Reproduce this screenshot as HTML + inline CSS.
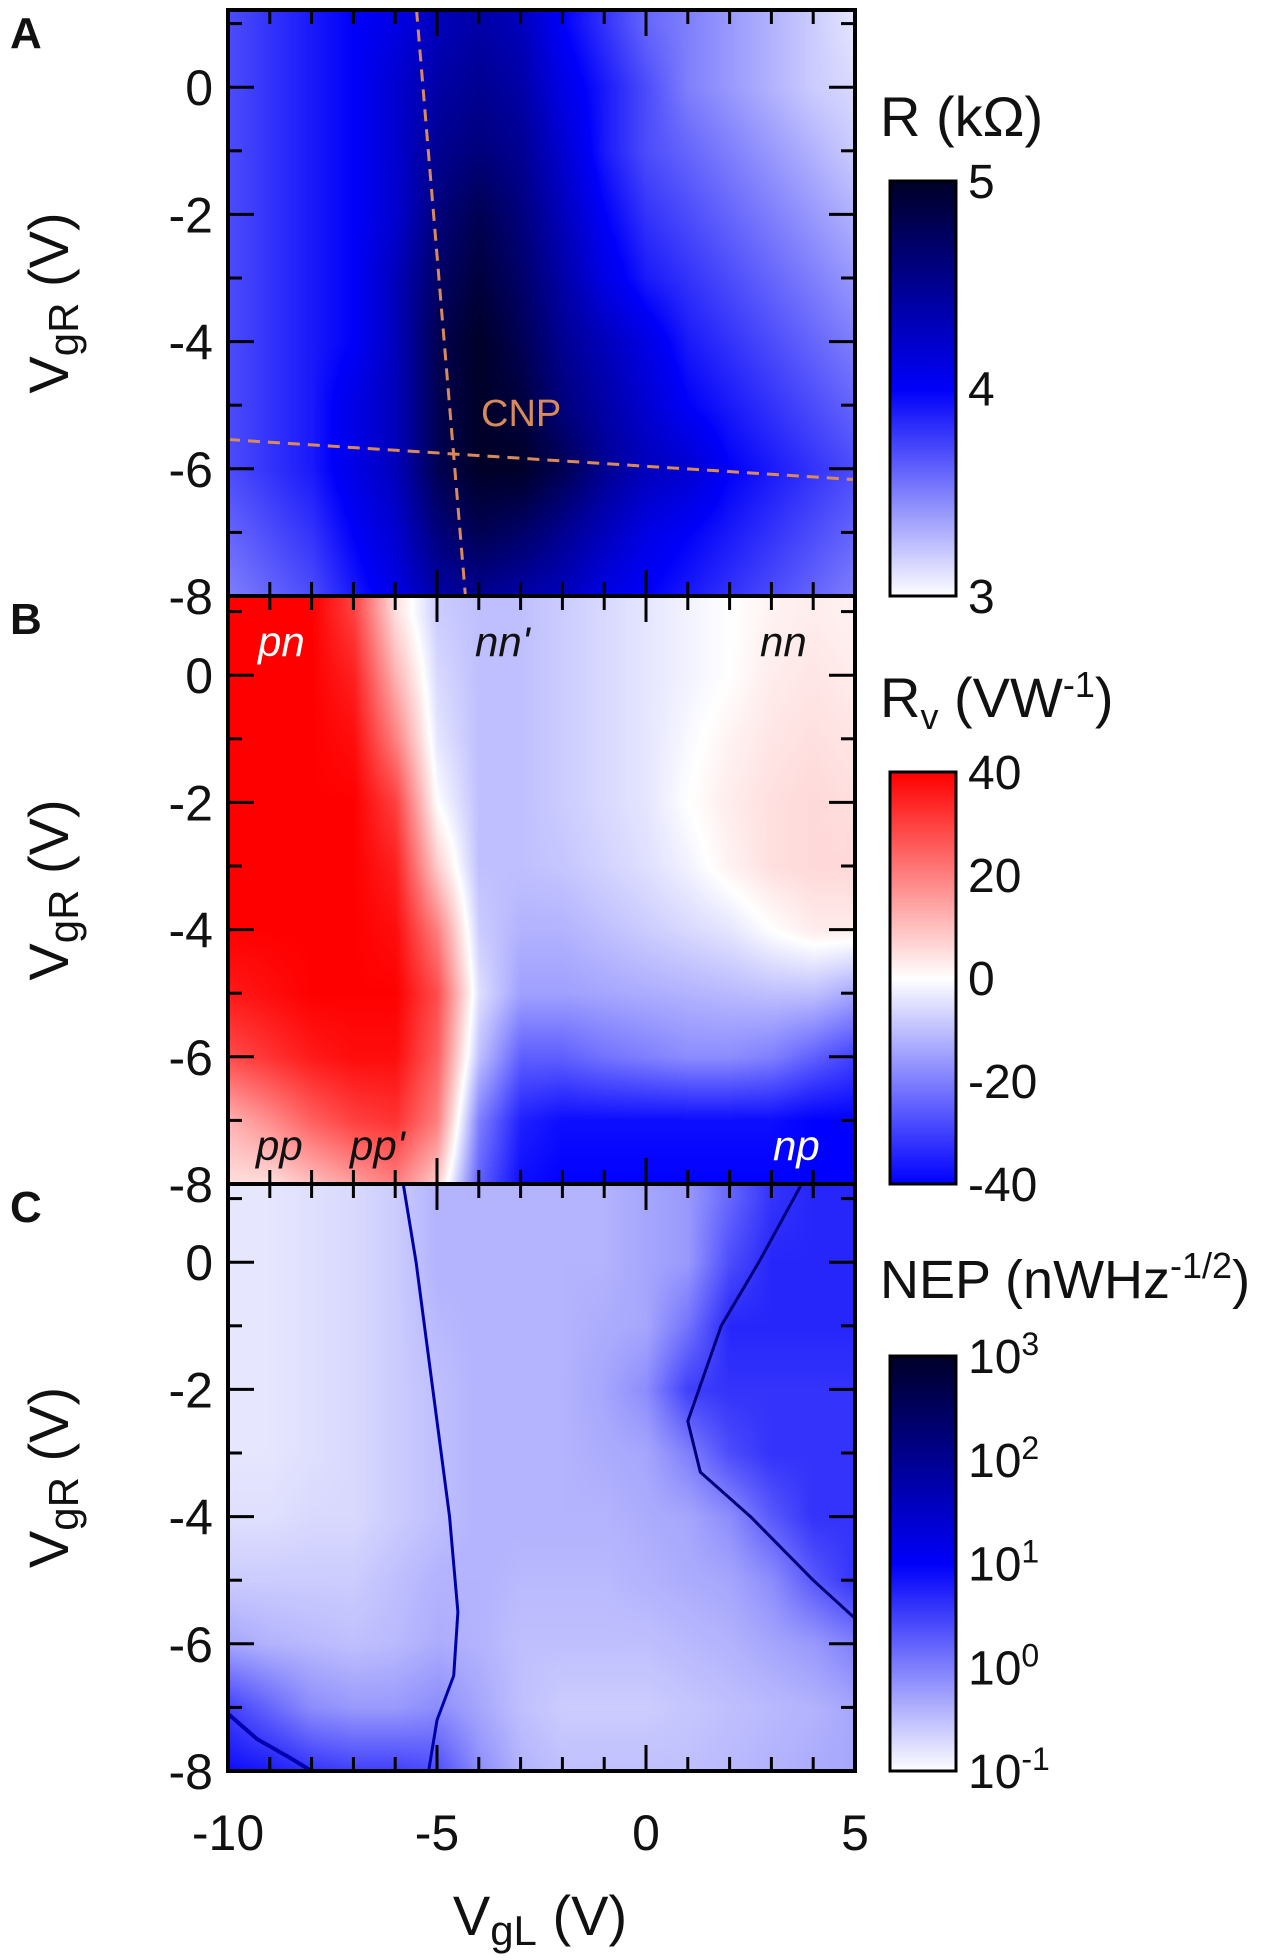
<!DOCTYPE html>
<html><head><meta charset="utf-8">
<style>
html,body{margin:0;padding:0;background:#fff;}
#root{position:relative;width:1280px;height:1960px;overflow:hidden;font-family:"Liberation Sans Narrow","Liberation Sans",sans-serif;}
canvas{position:absolute;}
svg{position:absolute;left:0;top:0;}
svg text{font-family:"Liberation Sans Narrow","Liberation Sans",sans-serif;fill:#111;}
</style></head>
<body>
<div id="root">
<canvas id="cA"></canvas>
<canvas id="cB"></canvas>
<canvas id="cC"></canvas>
<canvas id="bA"></canvas>
<canvas id="bB"></canvas>
<canvas id="bC"></canvas>
<svg id="ov" width="1280" height="1960"></svg>
</div>
<script>
// ---- data ----
const xCats=[-10,-9,-8,-7,-6,-5,-4,-3,-2,-1,0,1,2,3,4,5];
const yCats=[1,0,-1,-2,-3,-4,-5,-6,-7,-8];
const gridA=[
[3.7,3.8,3.9,4.0,4.1,4.3,4.4,4.3,4.0,3.8,3.6,3.5,3.4,3.3,3.2,3.1],
[3.7,3.8,3.9,4.0,4.2,4.4,4.5,4.4,4.1,3.9,3.7,3.5,3.4,3.3,3.2,3.15],
[3.7,3.8,3.9,4.0,4.2,4.5,4.6,4.5,4.2,3.9,3.7,3.6,3.5,3.4,3.3,3.2],
[3.7,3.8,3.9,4.0,4.2,4.6,4.8,4.6,4.3,4.0,3.8,3.7,3.6,3.5,3.4,3.3],
[3.7,3.8,3.9,4.0,4.3,4.7,4.9,4.7,4.4,4.1,3.9,3.8,3.7,3.6,3.5,3.4],
[3.7,3.8,3.9,4.0,4.3,4.8,5.0,4.8,4.5,4.3,4.1,3.9,3.8,3.7,3.6,3.5],
[3.7,3.8,3.9,4.1,4.3,4.8,5.0,4.9,4.6,4.4,4.2,4.0,3.9,3.8,3.7,3.6],
[3.7,3.8,3.9,4.1,4.3,4.8,5.0,5.0,4.8,4.5,4.3,4.2,4.0,3.9,3.8,3.7],
[3.6,3.7,3.8,4.0,4.2,4.6,4.8,4.7,4.5,4.3,4.1,4.0,3.9,3.8,3.7,3.6],
[3.5,3.6,3.7,3.9,4.1,4.4,4.5,4.4,4.3,4.1,4.0,3.9,3.8,3.7,3.6,3.5]];
const gridB=[
[40,40,40,30,5,-8,-10,-10,-8,-6,-4,-2,0,2,3,2],
[40,40,40,35,12,-6,-10,-10,-8,-6,-4,-2,0,3,4,3],
[40,40,40,38,20,-4,-10,-10,-8,-6,-4,-1,2,4,5,4],
[40,40,40,40,30,0,-10,-10,-8,-6,-4,0,3,5,6,5],
[40,40,40,40,35,8,-10,-10,-9,-7,-5,-2,2,5,6,6],
[40,40,40,40,38,20,-8,-12,-12,-10,-8,-6,-4,0,3,3],
[36,38,40,40,40,28,-5,-15,-15,-14,-13,-12,-11,-10,-10,-14],
[28,32,36,38,38,25,-10,-25,-25,-22,-20,-18,-18,-20,-25,-30],
[12,18,25,30,32,20,-20,-35,-38,-38,-38,-38,-38,-38,-40,-40],
[5,5,10,15,20,8,-25,-38,-40,-40,-40,-40,-40,-40,-40,-40]];
const gridC=[
[-0.8,-0.8,-0.75,-0.7,-0.6,-0.4,-0.4,-0.4,-0.4,-0.4,-0.3,-0.2,0.2,0.6,0.7,0.7],
[-0.8,-0.8,-0.75,-0.7,-0.6,-0.4,-0.4,-0.4,-0.4,-0.4,-0.3,-0.2,0.4,0.7,0.7,0.7],
[-0.8,-0.8,-0.75,-0.7,-0.6,-0.45,-0.4,-0.4,-0.4,-0.35,-0.3,0.1,0.7,0.7,0.7,0.7],
[-0.8,-0.8,-0.75,-0.7,-0.6,-0.5,-0.4,-0.4,-0.4,-0.3,-0.1,0.5,0.6,0.6,0.6,0.6],
[-0.8,-0.8,-0.75,-0.7,-0.6,-0.5,-0.4,-0.4,-0.4,-0.35,-0.3,0.0,0.4,0.6,0.6,0.6],
[-0.75,-0.75,-0.7,-0.7,-0.6,-0.5,-0.4,-0.4,-0.4,-0.4,-0.35,-0.3,-0.1,0.3,0.6,0.6],
[-0.6,-0.6,-0.6,-0.6,-0.5,-0.4,-0.4,-0.45,-0.45,-0.45,-0.4,-0.35,-0.3,-0.1,0.3,0.6],
[-0.3,-0.4,-0.45,-0.5,-0.45,-0.35,-0.4,-0.5,-0.5,-0.5,-0.5,-0.45,-0.4,-0.3,-0.2,0.0],
[0.5,0.2,-0.1,-0.2,-0.2,-0.1,-0.3,-0.5,-0.6,-0.6,-0.6,-0.55,-0.5,-0.45,-0.4,-0.3],
[0.9,0.8,0.6,0.5,0.5,0.4,-0.1,-0.4,-0.5,-0.5,-0.5,-0.5,-0.45,-0.4,-0.35,-0.3]];
const nepLine1X=[-5.8,-5.5,-5.1,-4.7,-4.5,-4.6,-5.0,-5.2];
const nepLine1Y=[1.2,0,-2,-4,-5.5,-6.5,-7.2,-8];
const nepLine2X=[3.7,2.7,1.8,1.0,1.3,2.5,4.0,5.0];
const nepLine2Y=[1.2,0,-1,-2.5,-3.3,-4,-5,-5.6];
const nepLine3X=[-10,-9.3,-8.5,-8];
const nepLine3Y=[-7.1,-7.5,-7.8,-8];
const cnpVX=[-5.49,-4.32], cnpVY=[1.22,-8];
const cnpHX=[-10,5], cnpHY=[-5.54,-6.17];
const xTicks=[-10,-5,0,5];
const yTicks=[0,-2,-4,-6,-8];
const cbTicksA=["5","4","3"];
const cbTicksB=["40","20","0","-20","-40"];
const cbTicksC=["3","2","1","0","-1"];

// ---- layout ----
const L=228,R=855,PY=63.6;
const panels=[{top:10,bot:596},{top:596,bot:1184},{top:1184,bot:1771}];
const xs=v=>L+(v+10)*(R-L)/15;
const ysF=p=>v=>panels[p].bot-(v+8)*PY;
const CBX=890,CBW=66;

function lerp(a,b,t){return a+(b-a)*t;}
function stops(s,t){t=Math.max(0,Math.min(1,t));for(let i=1;i<s.length;i++){if(t<=s[i][0]){const u=(t-s[i-1][0])/(s[i][0]-s[i-1][0]);return [0,1,2].map(k=>Math.round(lerp(s[i-1][1][k],s[i][1][k],u)));}}return s[s.length-1][1];}
const cmA=v=>stops([[0,[255,255,255]],[0.5,[0,0,250]],[1,[0,0,40]]],(v-3)/2);
const cmB=v=>stops([[0,[0,0,255]],[0.5,[255,255,255]],[1,[255,0,0]]],(v+40)/80);
const cmC=v=>stops([[0,[255,255,255]],[0.5,[0,0,250]],[1,[0,0,40]]],(v+1)/4);

function sample(grid,x,y){
  let fx=(x-xCats[0]);fx=Math.max(0,Math.min(xCats.length-1.0001,fx));
  let fy=(yCats[0]-y);fy=Math.max(0,Math.min(yCats.length-1.0001,fy));
  const i=Math.floor(fx),j=Math.floor(fy),u=fx-i,w=fy-j;
  const a=lerp(grid[j][i],grid[j][i+1],u),b=lerp(grid[j+1][i],grid[j+1][i+1],u);
  return lerp(a,b,w);
}
function drawHeat(id,p,grid,cm){
  const c=document.getElementById(id),W=R-L,H=panels[p].bot-panels[p].top;
  c.width=W;c.height=H;c.style.left=L+'px';c.style.top=panels[p].top+'px';
  const ctx=c.getContext('2d'),img=ctx.createImageData(W,H);
  for(let py=0;py<H;py++){const yv=-8+(H-py)/PY;
    for(let px=0;px<W;px++){const xv=-10+px*15/W;const col=cm(sample(grid,xv,yv));const k=(py*W+px)*4;
      img.data[k]=col[0];img.data[k+1]=col[1];img.data[k+2]=col[2];img.data[k+3]=255;}}
  ctx.putImageData(img,0,0);
}
drawHeat('cA',0,gridA,cmA);drawHeat('cB',1,gridB,cmB);drawHeat('cC',2,gridC,cmC);

function drawBar(id,top,bot,cm,lo,hi){
  const c=document.getElementById(id),H=bot-top;c.width=CBW;c.height=H;
  c.style.left=CBX+'px';c.style.top=top+'px';const ctx=c.getContext('2d');
  for(let y=0;y<H;y++){const col=cm(hi-(hi-lo)*y/H);ctx.fillStyle=`rgb(${col})`;ctx.fillRect(0,y,CBW,1);}
}
drawBar('bA',181,596,cmA,3,5);drawBar('bB',772,1184,cmB,-40,40);drawBar('bC',1356,1771,cmC,-1,3);

// ---- overlay ----
const NS='http://www.w3.org/2000/svg',ov=document.getElementById('ov');
function el(tag,at,txt){const e=document.createElementNS(NS,tag);for(const k in at)e.setAttribute(k,at[k]);if(txt!==undefined)e.textContent=txt;ov.appendChild(e);return e;}
function pl(X,Y,ys,stroke,w,dash,name){
  const pts=X.map((x,i)=>xs(x)+','+ys(Y[i])).join(' ');
  const e=el('polyline',{points:pts,fill:'none',stroke:stroke,'stroke-width':w,'stroke-dasharray':dash||'none','stroke-linejoin':'round'});
  
  
}
// NEP lines
const yC=ysF(2);
pl(nepLine1X,nepLine1Y,yC,'#0000a8',3,null,'nep-line-left');
pl(nepLine2X,nepLine2Y,yC,'#00007a',3,null,'nep-line-right');
pl(nepLine3X,nepLine3Y,yC,'#0000b0',4,null,'nep-line-corner');
// CNP dashed
const yA=ysF(0);
pl(cnpVX,cnpVY,yA,'#d88a5a',3,'12 8','cnp-dashed-vertical');
pl(cnpHX,cnpHY,yA,'#d88a5a',3,'12 8','cnp-dashed-horizontal');
let t=el('text',{x:481,y:426,'font-size':38,style:'fill:#d88a5a'},'CNP');


// ticks and frames
for(let p=0;p<3;p++){
  const top=panels[p].top,bot=panels[p].bot,ys=ysF(p);
  for(let v=-10;v<=5;v++){const x=xs(v),len=(v%5===0)?26:14;
    el('line',{x1:x,y1:top,x2:x,y2:top+len,stroke:'#000','stroke-width':3});
    el('line',{x1:x,y1:bot,x2:x,y2:bot-len,stroke:'#000','stroke-width':3});}
  for(let v=-8;v<=1;v++){const y=ys(v),len=(v%2===0)?26:14;
    el('line',{x1:L,y1:y,x2:L+len,y2:y,stroke:'#000','stroke-width':3});
    el('line',{x1:R,y1:y,x2:R-len,y2:y,stroke:'#000','stroke-width':3});}
  const fr=el('rect',{x:L,y:top,width:R-L,height:bot-top,fill:'none',stroke:'#000','stroke-width':4});
  
  yTicks.forEach(v=>{const e=el('text',{x:213,y:ys(v)+18,'font-size':50,'text-anchor':'end'},String(v));
    });
  const yt=el('text',{x:0,y:0,'font-size':56,'text-anchor':'middle',transform:`translate(68,${(top+bot)/2}) rotate(-90)`});
  yt.innerHTML='V<tspan font-size="42" dy="10">gR</tspan><tspan dy="-10"> (V)</tspan>';
  
  const lt=el('text',{x:10,y:[48,634,1222][p],'font-size':44,'font-weight':'bold',style:'font-family:"Liberation Sans",sans-serif'},'ABC'[p]);
  
}
xTicks.forEach(v=>{const e=el('text',{x:xs(v),y:1850,'font-size':50,'text-anchor':'middle'},String(v));
  });
const xt=el('text',{x:540,y:1935,'font-size':56,'text-anchor':'middle'});
xt.innerHTML='V<tspan font-size="42" dy="10">gL</tspan><tspan dy="-10"> (V)</tspan>';


// colorbars
[[181,596,cbTicksA,'a'],[772,1184,cbTicksB,'b'],[1356,1771,cbTicksC,'c']].forEach(([tp,bt,lab,k],idx)=>{
  const fr=el('rect',{x:CBX,y:tp,width:CBW,height:bt-tp,fill:'none',stroke:'#000','stroke-width':3});
  
  lab.forEach((s,i)=>{const y=tp+(bt-tp)*i/(lab.length-1)+17;
    const e=el('text',{x:968,y:y,'font-size':48});
    if(idx===2){e.innerHTML='10<tspan font-size="32" dy="-18">'+s+'</tspan>';}else e.textContent=s;
    });
});
let ct=el('text',{x:880,y:136,'font-size':56},'R (kΩ)');

ct=el('text',{x:880,y:717,'font-size':56});ct.innerHTML='R<tspan font-size="36" dy="12">v</tspan><tspan dy="-12"> (VW</tspan><tspan font-size="36" dy="-20">-1</tspan><tspan dy="20">)</tspan>';

ct=el('text',{x:880,y:1298,'font-size':54});ct.innerHTML='NEP (nWHz<tspan font-size="36" dy="-20">-1/2</tspan><tspan dy="20">)</tspan>';


// region labels panel B
[['pn',258,656,'#fff'],["nn'",475,656,'#111'],['nn',760,656,'#111'],['pp',256,1160,'#111'],["pp'",350,1160,'#111'],['np',773,1160,'#fff']].forEach(([s,x,y,c])=>{
  const e=el('text',{x:x,y:y,'font-size':42,'font-style':'italic',style:'fill:'+c},s);
  });
</script>
</body></html>
